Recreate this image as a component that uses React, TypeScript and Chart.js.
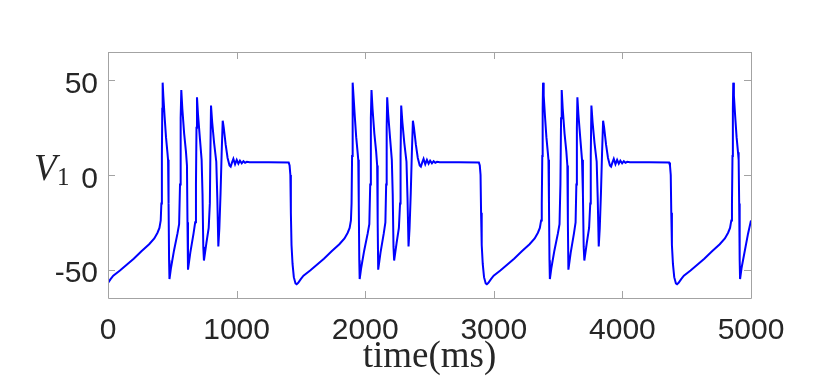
import React, { useEffect, useRef } from "react";
import { Chart, registerables } from "chart.js";

Chart.register(...registerables);

// ---- data (time in ms, V1 in mV) ----
const burst1Time = [0, 20, 41, 93, 150, 200, 260, 320, 360, 385, 400, 410, 415, 419, 422, 425, 430, 440, 451, 462, 467, 471, 475, 478, 490, 513, 540, 553, 560, 565, 570, 578, 592, 606, 614, 618, 622, 640, 665, 678, 684, 688, 692, 700, 715, 728, 735, 741, 746, 765, 783, 792, 796, 801, 810, 825, 842, 850, 858, 866, 875, 884, 892, 900, 915, 930, 945, 954, 964, 975, 988, 1001, 1014, 1026, 1040, 1053, 1066, 1080, 1100, 1250, 1405, 1412, 1418, 1422, 1427, 1435, 1445, 1458, 1467];
const burst1V = [-57.0, -55.0, -53.2, -50.5, -47.2, -44.2, -40.3, -36.6, -33.5, -30.5, -28.0, -24.0, -15.0, 10, 35, 48.8, 42, 31, 20, 12, 8, -15, -45, -55, -49, -40, -31, -26, -5, 30, 44.9, 35, 22, 12.5, 5, -25, -50, -41, -31, -25, -5, 25, 41.1, 32, 19, 8, -10, -38, -45.2, -36, -28, -15, 10, 36.7, 28, 17, 7, -12, -37.8, -28, -10, 12, 28.7, 25, 16, 9, 5, 4.4, 6.5, 8.5, 5.7, 8.0, 6.0, 7.6, 6.2, 7.3, 6.5, 7.0, 6.7, 6.75, 6.6, 5, 0, -20, -37, -47, -54, -57.3, -57.7];

const burst2Time = [1479, 1499, 1520, 1572, 1629, 1679, 1739, 1799, 1839, 1864, 1879, 1889, 1894, 1898, 1901, 1904, 1909, 1919, 1930, 1941, 1946, 1950, 1954, 1957, 1969, 1992, 2019, 2032, 2039, 2044, 2049, 2057, 2071, 2085, 2093, 2097, 2101, 2119, 2144, 2157, 2163, 2167, 2171, 2179, 2194, 2207, 2214, 2220, 2225, 2244, 2262, 2271, 2275, 2280, 2289, 2304, 2321, 2329, 2337, 2345, 2354, 2363, 2371, 2379, 2394, 2409, 2424, 2433, 2443, 2454, 2467, 2480, 2493, 2505, 2519, 2532, 2545, 2559, 2579, 2729, 2884, 2891, 2897, 2901, 2906, 2914, 2924, 2937, 2946];
const burst2V = [-57.0, -55.0, -53.2, -50.5, -47.2, -44.2, -40.3, -36.6, -33.5, -30.5, -28.0, -24.0, -15.0, 10, 35, 48.8, 42, 31, 20, 12, 8, -15, -45, -55, -49, -40, -31, -26, -5, 30, 44.9, 35, 22, 12.5, 5, -25, -50, -41, -31, -25, -5, 25, 41.1, 32, 19, 8, -10, -38, -45.2, -36, -28, -15, 10, 36.7, 28, 17, 7, -12, -37.8, -28, -10, 12, 28.7, 25, 16, 9, 5, 4.4, 6.5, 8.5, 5.7, 8.0, 6.0, 7.6, 6.2, 7.3, 6.5, 7.0, 6.7, 6.75, 6.6, 5, 0, -20, -37, -47, -54, -57.3, -57.7];

const burst3Time = [2958, 2978, 2999, 3051, 3108, 3158, 3218, 3278, 3318, 3343, 3358, 3368, 3373, 3377, 3380, 3383, 3388, 3398, 3409, 3420, 3425, 3429, 3433, 3436, 3448, 3471, 3498, 3511, 3518, 3523, 3528, 3536, 3550, 3564, 3572, 3576, 3580, 3598, 3623, 3636, 3642, 3646, 3650, 3658, 3673, 3686, 3693, 3699, 3704, 3723, 3741, 3750, 3754, 3759, 3768, 3783, 3800, 3808, 3816, 3824, 3833, 3842, 3850, 3858, 3873, 3888, 3903, 3912, 3922, 3933, 3946, 3959, 3972, 3984, 3998, 4011, 4024, 4038, 4058, 4208, 4363, 4370, 4376, 4380, 4385, 4393, 4403, 4416, 4425];
const burst3V = [-57.0, -55.0, -53.2, -50.5, -47.2, -44.2, -40.3, -36.6, -33.5, -30.5, -28.0, -24.0, -15.0, 10, 35, 48.8, 42, 31, 20, 12, 8, -15, -45, -55, -49, -40, -31, -26, -5, 30, 44.9, 35, 22, 12.5, 5, -25, -50, -41, -31, -25, -5, 25, 41.1, 32, 19, 8, -10, -38, -45.2, -36, -28, -15, 10, 36.7, 28, 17, 7, -12, -37.8, -28, -10, 12, 28.7, 25, 16, 9, 5, 4.4, 6.5, 8.5, 5.7, 8.0, 6.0, 7.6, 6.2, 7.3, 6.5, 7.0, 6.7, 6.75, 6.6, 5, 0, -20, -37, -47, -54, -57.3, -57.7];

const burst4Time = [4437, 4457, 4478, 4530, 4587, 4637, 4697, 4757, 4797, 4822, 4837, 4847, 4852, 4856, 4859, 4862, 4867, 4877, 4888, 4899, 4904, 4908, 4912, 4915, 4927, 4977, 5000];
const burst4V = [-57.0, -55.0, -53.2, -50.5, -47.2, -44.2, -40.3, -36.6, -33.5, -30.5, -28.0, -24.0, -15.0, 10, 35, 48.8, 42, 31, 20, 12, 8, -15, -45, -55, -49, -31, -24];

const xTicks = [0, 1000, 2000, 3000, 4000, 5000];
const yTicks = [-50, 0, 50];
const xTitle = "time(ms)";
const yTitleMain = "V";
const yTitleSub = "1";

const X_MIN = 0;
const X_MAX = 5000;
const Y_MIN = -65;
const Y_MAX = 65;

function toPoints(t: number[], v: number[]) {
  return t.map((x, i) => ({ x, y: v[i] }));
}

const framePlugin = {
  id: "matlabFrame",
  afterDraw(chart: any) {
    const { ctx, chartArea } = chart;
    const xs = chart.scales.x;
    const ys = chart.scales.y;
    const { left, right, top, bottom } = chartArea;
    ctx.save();
    // box
    ctx.strokeStyle = "#a3a3a3";
    ctx.lineWidth = 1;
    ctx.beginPath();
    ctx.rect(Math.round(left) + 0.5, Math.round(top) + 0.5, Math.round(right - left), Math.round(bottom - top));
    ctx.stroke();
    // inward ticks
    const tl = 7;
    ctx.beginPath();
    xTicks.forEach((t) => {
      const px = Math.round(xs.getPixelForValue(t)) + 0.5;
      ctx.moveTo(px, bottom);
      ctx.lineTo(px, bottom - tl);
      ctx.moveTo(px, top);
      ctx.lineTo(px, top + tl);
    });
    yTicks.forEach((t) => {
      const py = Math.round(ys.getPixelForValue(t)) + 0.5;
      ctx.moveTo(left, py);
      ctx.lineTo(left + tl, py);
      ctx.moveTo(right, py);
      ctx.lineTo(right - tl, py);
    });
    ctx.stroke();

    // tick labels
    ctx.fillStyle = "#262626";
    ctx.font = "30px 'Liberation Sans', Arial, sans-serif";
    ctx.textBaseline = "alphabetic";
    ctx.textAlign = "center";
    xTicks.forEach((t) => {
      ctx.fillText(String(t), xs.getPixelForValue(t), bottom + 41);
    });
    ctx.textAlign = "right";
    yTicks.forEach((t) => {
      ctx.fillText(String(t), left - 10, ys.getPixelForValue(t) + 12.5);
    });

    // x title
    ctx.fillStyle = "#262626";
    ctx.textAlign = "center";
    ctx.font = "37px 'Liberation Serif', 'Times New Roman', serif";
    ctx.fillText(xTitle, (left + right) / 2, bottom + 69);

    // y title V_1
    ctx.textAlign = "left";
    ctx.font = "italic 37px 'Liberation Serif', 'Times New Roman', serif";
    const yMid = ys.getPixelForValue(0);
    ctx.fillText(yTitleMain, 34, yMid + 5);
    ctx.font = "25px 'Liberation Serif', 'Times New Roman', serif";
    ctx.fillText(yTitleSub, 57, yMid + 10);
    ctx.restore();
  },
};

export default function App() {
  const canvasRef = useRef<HTMLCanvasElement | null>(null);

  useEffect(() => {
    const canvas = canvasRef.current;
    if (!canvas) return;
    const data = [
      ...toPoints(burst1Time, burst1V),
      ...toPoints(burst2Time, burst2V),
      ...toPoints(burst3Time, burst3V),
      ...toPoints(burst4Time, burst4V),
    ];
    const chart = new Chart(canvas, {
      type: "line",
      data: {
        datasets: [
          {
            data,
            borderColor: "#0000ff",
            borderWidth: 2,
            pointRadius: 0,
            tension: 0,
            fill: false,
          },
        ],
      },
      options: {
        animation: false,
        responsive: false,
        devicePixelRatio: 1,
        layout: { padding: { left: 0, right: 79, top: 52, bottom: 0 } },
        plugins: {
          legend: { display: false },
          tooltip: { enabled: false },
        },
        scales: {
          x: {
            type: "linear",
            min: X_MIN,
            max: X_MAX,
            grid: { display: false },
            border: { display: false },
            ticks: { display: false },
            afterFit: (s: any) => {
              s.height = 93;
            },
          },
          y: {
            type: "linear",
            min: Y_MIN,
            max: Y_MAX,
            grid: { display: false },
            border: { display: false },
            ticks: { display: false },
            afterFit: (s: any) => {
              s.width = 108;
            },
          },
        },
      },
      plugins: [framePlugin],
    } as any);
    return () => chart.destroy();
  }, []);

  return (
    <div style={{ position: "fixed", left: 0, top: 0, width: 830, height: 391, background: "#fff" }}>
      <canvas ref={canvasRef} width={830} height={391} style={{ display: "block" }} />
    </div>
  );
}
